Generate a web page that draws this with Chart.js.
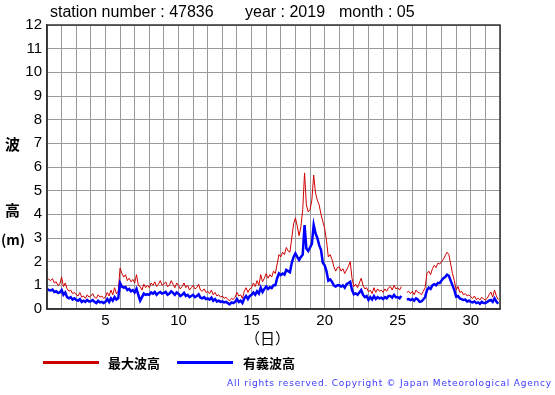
<!DOCTYPE html>
<html>
<head>
<meta charset="utf-8">
<script src="https://cdn.jsdelivr.net/npm/chart.js@4/dist/chart.umd.min.js"></script>
<style>
  body { margin: 0; background: #fff; }
  #wrap { position: relative; width: 555px; height: 395px; }
  #wave { position: absolute; left: 0; top: 0; }
  .t { position: absolute; white-space: nowrap; color: #000; font-family: "Liberation Sans", Arial, sans-serif; }
  .hd { font-size: 16px; line-height: 16px; top: 4px; }
  .jp { font-family: "Noto Sans CJK JP", sans-serif; font-weight: bold; }
  .leg { position: absolute; height: 3px; }
</style>
</head>
<body>
<div id="wrap">
  <canvas id="wave" width="555" height="395"></canvas>
  <div class="t hd" style="left:50px;">station number : 47836</div>
  <div class="t hd" style="left:245px;">year : 2019</div>
  <div class="t hd" style="left:339px;">month : 05</div>
  <div class="t jp" style="left:5px; top:133px; font-size:15px;">波</div>
  <div class="t jp" style="left:5px; top:199px; font-size:15px;">高</div>
  <div class="t jp" style="left:1px; top:229px; font-size:14px;">(m)</div>
  <div class="t jp" style="left:245px; top:327px; font-size:15px; font-weight:normal;">（日）</div>
  <div class="leg" style="left:43px; top:361px; width:56px; background:#cc0000;"></div>
  <div class="t jp" style="left:108px; top:353px; font-size:13px;">最大波高</div>
  <div class="leg" style="left:177px; top:361px; width:56px; background:#0000ff;"></div>
  <div class="t jp" style="left:243px; top:353px; font-size:13px;">有義波高</div>
  <div class="t" style="left:227px; top:378px; font-size:9px; letter-spacing:0.8px; color:#3a3aff; font-family:'DejaVu Sans', sans-serif;">All rights reserved. Copyright © Japan Meteorological Agency</div>
</div>
<script>
// 3-hourly values, 8 per day, days 1..31 (null = missing)
const stepsPerDay = 8;
const firstDay = 1;
const lastDay = 32;
const labelDays = [5, 10, 15, 20, 25, 30];

const maxWave = [
  1.3, 1.25, 1.2, 1.28, 1.1, 1.15, 1.0, 1.05,
  1.35, 0.95, 1.1, 0.85, 0.75, 0.8, 0.65, 0.7,
  0.6, 0.55, 0.7, 0.5, 0.55, 0.45, 0.6, 0.5,
  0.55, 0.65, 0.5, 0.45, 0.6, 0.5, 0.55, 0.45,
  0.5, 0.7, 0.55, 0.8, 0.6, 0.9, 0.65, 0.75,
  1.73, 1.5, 1.35, 1.45, 1.2, 1.3, 1.15, 1.25,
  1.1, 1.45, 1.0, 0.95, 0.8, 1.05, 0.9, 1.0,
  0.9, 1.1, 1.0, 1.15, 0.95, 1.05, 1.2, 1.0,
  1.05, 1.15, 0.95, 1.0, 1.2, 1.05, 0.9, 1.1,
  1.0, 0.85, 0.95, 1.1, 0.9, 1.0, 0.8, 0.9,
  1.0, 0.85, 0.9, 1.05, 0.8, 0.75, 0.85, 0.7,
  0.75, 0.65, 0.8, 0.6, 0.7, 0.55, 0.6, 0.5,
  0.55, 0.45, 0.5, 0.4, 0.35, 0.45, 0.4, 0.5,
  0.7, 0.55, 0.6, 0.45, 0.75, 0.9, 0.7, 0.85,
  0.9, 1.1, 0.95, 1.2, 1.0, 1.45, 1.15, 1.3,
  1.5, 1.3, 1.45, 1.35, 1.6, 1.5, 1.9, 2.3,
  2.2, 2.4, 2.3, 2.6, 2.45, 2.4, 3.0, 3.6,
  3.85, 3.5, 3.1, 3.47, 4.2, 5.75, 4.4, 4.1,
  4.2, 4.6, 5.66, 4.9, 4.6, 4.4, 4.0, 3.7,
  3.4, 2.9, 2.2, 2.3, 2.1, 1.8, 1.6, 1.75,
  1.78, 1.6, 1.7, 1.5, 1.65, 1.8, 2.0, 1.3,
  0.95, 1.05, 0.9, 1.1, 1.3, 1.0, 0.85, 0.9,
  0.72, 0.8, 0.65, 0.9, 0.7, 0.85, 0.75, 0.8,
  0.7, 0.85, 0.75, 0.9, 0.95, 0.8, 1.0, 0.85,
  0.9, 0.8, 0.95, null, null, 0.7, 0.75, 0.65,
  0.75, 0.6, 0.8, 0.7, 0.68, 0.6, 0.75, 0.9,
  1.5, 1.6, 1.45, 1.7, 1.85, 1.75, 1.94, 1.9,
  2.0, 2.1, 2.25, 2.4, 2.3, 1.9, 1.5, 1.2,
  0.8, 0.95, 0.7, 0.75, 0.6, 0.65, 0.55, 0.6,
  0.52, 0.45, 0.55, 0.4, 0.45, 0.38, 0.5, 0.42,
  0.38, 0.45, 0.6, 0.72, 0.5, 0.8, 0.55, 0.4
];

const sigWave = [
  0.85, 0.8, 0.78, 0.82, 0.72, 0.75, 0.68, 0.7,
  0.8, 0.6, 0.7, 0.5, 0.45, 0.5, 0.4, 0.45,
  0.38, 0.35, 0.42, 0.3, 0.35, 0.3, 0.38, 0.32,
  0.33, 0.38, 0.3, 0.25, 0.35, 0.28, 0.3, 0.25,
  0.3, 0.42, 0.3, 0.45, 0.35, 0.5, 0.4, 0.45,
  1.1, 0.95, 0.9, 0.93, 0.8, 0.85, 0.75, 0.8,
  0.7, 0.85, 0.6, 0.35, 0.5, 0.65, 0.6, 0.62,
  0.6, 0.7, 0.65, 0.72, 0.6, 0.68, 0.72, 0.65,
  0.68, 0.72, 0.6, 0.65, 0.75, 0.68, 0.6, 0.7,
  0.65, 0.55, 0.6, 0.68, 0.55, 0.6, 0.5, 0.55,
  0.6, 0.5, 0.55, 0.62, 0.48, 0.45, 0.5, 0.42,
  0.45, 0.4, 0.48, 0.35, 0.42, 0.32, 0.35, 0.3,
  0.32, 0.28, 0.3, 0.25, 0.2, 0.28, 0.25, 0.3,
  0.42, 0.3, 0.35, 0.25, 0.45, 0.55, 0.42, 0.55,
  0.6, 0.7, 0.6, 0.75, 0.65, 0.9, 0.72, 0.85,
  0.95, 0.85, 0.92, 0.88, 1.0, 1.0, 1.3, 1.5,
  1.43, 1.5, 1.45, 1.65, 1.6, 1.55, 1.95, 2.2,
  2.35, 2.2, 2.07, 2.2, 2.3, 3.55, 2.55, 2.45,
  2.6, 2.75, 3.55, 3.2, 3.0, 2.7, 2.5, 1.95,
  1.85, 1.6, 1.2, 1.25, 1.15, 1.0, 0.95, 1.0,
  1.0, 0.95, 1.0, 0.9, 1.05, 1.1, 1.15, 0.8,
  0.62, 0.66, 0.6, 0.7, 0.8, 0.6, 0.5, 0.55,
  0.38, 0.5, 0.4, 0.55, 0.42, 0.5, 0.45, 0.48,
  0.42, 0.5, 0.45, 0.55, 0.55, 0.48, 0.6, 0.5,
  0.5, 0.45, 0.55, null, null, 0.4, 0.42, 0.38,
  0.42, 0.35, 0.45, 0.4, 0.3, 0.32, 0.4, 0.5,
  0.8, 0.9, 0.85, 1.0, 1.05, 1.0, 1.1, 1.1,
  1.2, 1.3, 1.35, 1.45, 1.4, 1.2, 1.0, 0.8,
  0.52, 0.55, 0.45, 0.42, 0.38, 0.4, 0.32, 0.35,
  0.3, 0.28, 0.32, 0.25, 0.28, 0.22, 0.3, 0.25,
  0.25, 0.3, 0.35, 0.38, 0.3, 0.45, 0.32, 0.22
];

const toPoints = arr => arr.map((v, i) => ({ x: firstDay + i / stepsPerDay, y: v }));

// draws the dark frame around the plot area
const framePlugin = {
  id: 'frame',
  afterDraw(chart) {
    const { ctx, chartArea: a } = chart;
    ctx.save();
    ctx.strokeStyle = '#333';
    ctx.lineWidth = 1.5;
    ctx.strokeRect(a.left, a.top, a.right - a.left, a.bottom - a.top);
    ctx.restore();
  }
};

new Chart(document.getElementById('wave').getContext('2d'), {
  type: 'line',
  data: {
    datasets: [
      {
        label: '有義波高',
        data: toPoints(sigWave),
        borderColor: '#0000ff',
        borderWidth: 2.5,
        pointRadius: 0,
        spanGaps: false
      },
      {
        label: '最大波高',
        data: toPoints(maxWave),
        borderColor: '#d00000',
        borderWidth: 1,
        pointRadius: 0,
        spanGaps: false
      }
    ]
  },
  options: {
    responsive: false,
    animation: false,
    layout: { padding: { left: 0, top: 25, right: 55, bottom: 0 } },
    plugins: { legend: { display: false }, tooltip: { enabled: false } },
    scales: {
      x: {
        type: 'linear',
        min: firstDay,
        max: lastDay,
        afterFit: s => { s.height = 86; },
        afterBuildTicks: s => {
          s.ticks = [];
          for (let d = firstDay; d <= lastDay; d++) s.ticks.push({ value: d });
        },
        ticks: {
          autoSkip: false,
          maxRotation: 0,
          padding: 3,
          color: '#000',
          font: { family: 'Liberation Sans', size: 15 },
          callback: v => labelDays.includes(v) ? String(v) : ''
        },
        grid: { color: '#9a9a9a', lineWidth: 1, drawTicks: false },
        border: { color: '#333', width: 1.5 }
      },
      y: {
        min: 0,
        max: 12,
        afterFit: s => { s.width = 47; },
        ticks: {
          stepSize: 1,
          padding: 5,
          color: '#000',
          font: { family: 'Liberation Sans', size: 15 }
        },
        grid: { color: '#9a9a9a', lineWidth: 1, drawTicks: false },
        border: { color: '#333', width: 1.5 }
      }
    }
  },
  plugins: [framePlugin]
});
</script>
</body>
</html>
